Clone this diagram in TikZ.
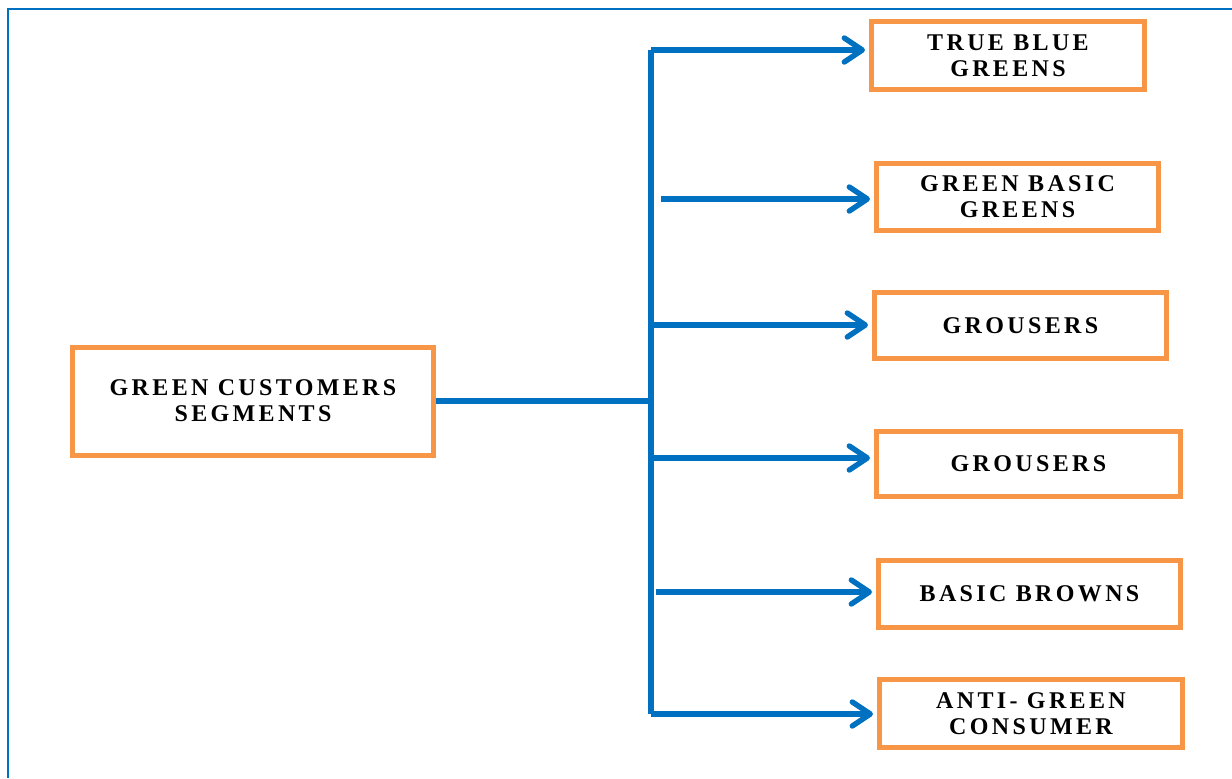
\documentclass[tikz,border=0pt]{standalone}
\usepackage{fontspec}
\newfontfamily\segfont[LetterSpace=14]{Liberation Serif}
\usetikzlibrary{arrows.meta,positioning}
\definecolor{linkblue}{RGB}{0,112,192}
\definecolor{boxorange}{RGB}{247,150,70}

\begin{document}
\begin{tikzpicture}[
    x=0.5pt, y=-0.5pt,
    segbox/.style={draw=boxorange, line width=2.5pt, align=center, inner sep=0pt,
        font=\segfont\bfseries\fontsize{12}{13}\selectfont},
    link/.style={draw=linkblue, line width=2.7pt},
    arrowlink/.style={link, -{Straight Barb[length=9pt,width=12pt,line width=2.7pt,round]}}
]
\useasboundingbox (0,0) rectangle (1232,778);

% frame
\draw[linkblue, line width=1pt] (1232,9) -- (8,9) -- (8,778);

% segments
\node[segbox, minimum width=361pt/2, minimum height=108pt/2] (gcs) at (253,401) {GREEN CUSTOMERS\\SEGMENTS};
\node[segbox, minimum width=273pt/2, minimum height=68pt/2] (tbg) at (1008,55.5) {TRUE BLUE\\GREENS};
\node[segbox, minimum width=282pt/2, minimum height=67pt/2] (gbg) at (1017.5,197) {GREEN BASIC\\GREENS};
\node[segbox, minimum width=292pt/2, minimum height=66pt/2] (grs) at (1020.5,325.5) {GROUSERS};
\node[segbox, minimum width=304pt/2, minimum height=65pt/2] (grt) at (1028.5,464) {GROUSERS};
\node[segbox, minimum width=302pt/2, minimum height=67pt/2] (bbr) at (1029.5,594) {BASIC BROWNS};
\node[segbox, minimum width=303pt/2, minimum height=68pt/2] (agc) at (1031,713.5) {ANTI- GREEN\\CONSUMER};

% trunk
\coordinate (jn) at (651,401);
\coordinate (t1) at (651,50);
\coordinate (t2) at (661,199);
\coordinate (t3) at (651,325);
\coordinate (t4) at (651,458);
\coordinate (t5) at (656,592);
\coordinate (t6) at (651,714);

\draw[link] (gcs.east |- jn) -- (jn);
\draw[link, line join=miter] (t6) -- (t1);

% arrows
\draw[arrowlink] (t1) -- ([xshift=-2pt]t1 -| tbg.west);
\draw[arrowlink] (t2) -- ([xshift=-2pt]t2 -| gbg.west);
\draw[arrowlink] (t3) -- ([xshift=-2pt]t3 -| grs.west);
\draw[arrowlink] (t4) -- ([xshift=-2pt]t4 -| grt.west);
\draw[arrowlink] (t5) -- ([xshift=-2pt]t5 -| bbr.west);
\draw[arrowlink] (t6) -- ([xshift=-2pt]t6 -| agc.west);

\end{tikzpicture}
\end{document}
